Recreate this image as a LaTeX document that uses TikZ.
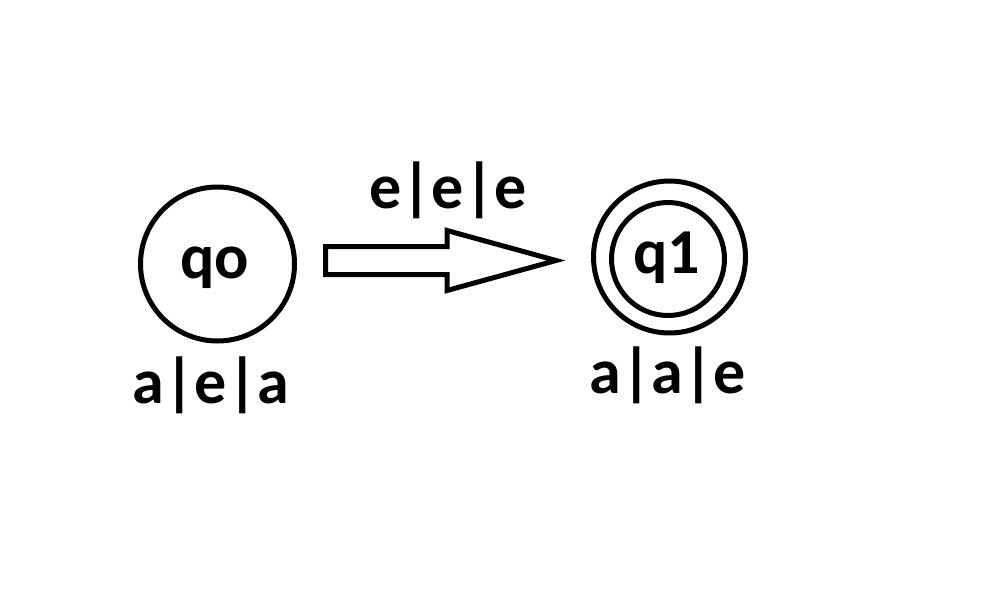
\documentclass[tikz,border=0pt]{standalone}
\usepackage{fontspec}
\setmainfont{Carlito}
\usetikzlibrary{calc}
\tikzset{
	state/.style={draw, circle, line width=5pt, inner sep=0pt},
	lbl/.style={font=\fontsize{64}{70}\selectfont\bfseries, inner sep=0pt, anchor=base},
}

\begin{document}
\begin{tikzpicture}[x=1pt, y=-1pt]
			%%%%% START %%%%%
			\useasboundingbox[fill=white] (0, 0) rectangle (985, 602);
			
			\node[state, minimum size=154pt] (q0) at (217.5, 264) {};
			\node[lbl] (q0txt) at (215, 278) {qo};
			\node[lbl] (q0loop) at (211, 403) {a|e|a};
			
			\node[state, minimum size=152pt] (q1) at (669.5, 257) {};
			\node[state, minimum size=113pt] (q1in) at (668, 259) {};
			\node[lbl] (q1txt) at (667, 273) {q1};
			\node[lbl] (q1loop) at (668, 393) {a|a|e};
			
			\coordinate (tail) at (325.5, 260.5);
			\coordinate (tip) at (556, 260.5);
			\draw[line width=5pt] ($(tail)+(0,-14)$) -- ($(tip)+(-109,-14)$) -- ($(tip)+(-109,-30)$) -- (tip)
				-- ($(tip)+(-109,30)$) -- ($(tip)+(-109,14)$) -- ($(tail)+(0,14)$) -- cycle;
			\node[lbl] (edgetxt) at (448, 208) {e|e|e};
			
			%%%%% END %%%%%
		\end{tikzpicture}
\end{document}
